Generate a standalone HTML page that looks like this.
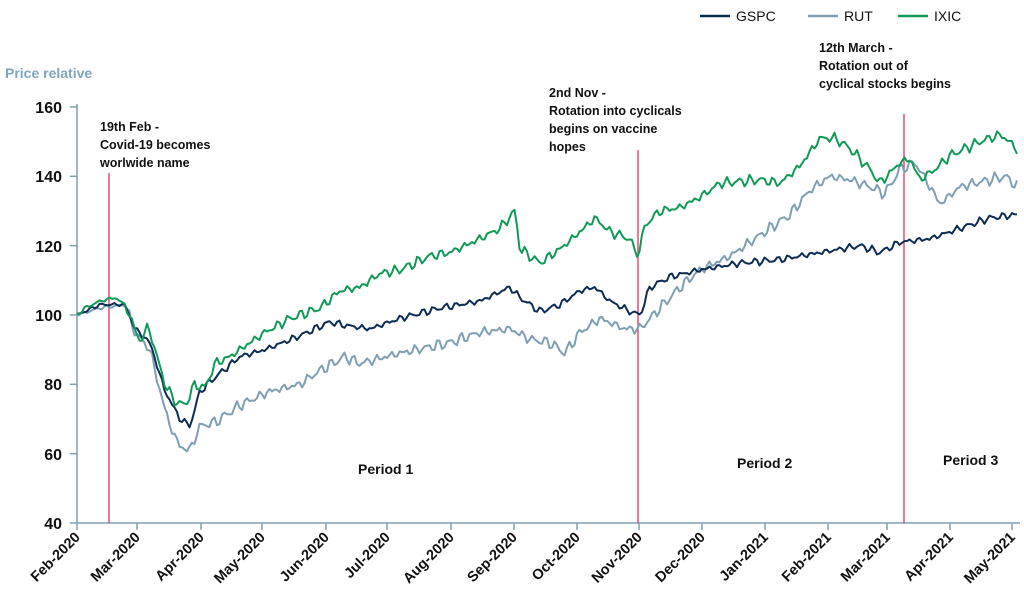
<!DOCTYPE html>
<html><head><meta charset="utf-8"><style>
body{margin:0;background:#fff;width:1024px;height:611px;overflow:hidden}
svg{display:block;font-family:"Liberation Sans",Arial,sans-serif}
.b{font-weight:bold}
</style></head><body>
<svg id="s" width="1024" height="611" viewBox="0 0 1024 611">
<g id="g"></g>
<text x="5" y="78" class="b" font-size="14" fill="#7fa6bd">Price relative</text>
<g class="b" font-size="16" fill="#111" text-anchor="end">
<text x="62" y="113">160</text><text x="62" y="182">140</text><text x="62" y="252">120</text>
<text x="62" y="321">100</text><text x="62" y="390">80</text><text x="62" y="460">60</text><text x="62" y="529">40</text>
</g>
<g class="b" font-size="12.5" fill="#111">
<text x="100" y="131">19th Feb -</text><text x="100" y="149">Covid-19 becomes</text><text x="100" y="167">worlwide name</text>
<text x="549" y="97">2nd Nov -</text><text x="549" y="115">Rotation into cyclicals</text><text x="549" y="133">begins on vaccine</text><text x="549" y="151">hopes</text>
<text x="819" y="52">12th March -</text><text x="819" y="70">Rotation out of</text><text x="819" y="88">cyclical stocks begins</text>
</g>
<g class="b" font-size="14" fill="#111">
<text x="358" y="474">Period 1</text><text x="737" y="468">Period 2</text><text x="943" y="465">Period 3</text>
</g>
<g font-size="14" fill="#111">
<line x1="700" y1="16" x2="730" y2="16" stroke="#0d2c54" stroke-width="2.5"/><text x="736" y="21">GSPC</text>
<line x1="808" y1="16" x2="838" y2="16" stroke="#7f9fb3" stroke-width="2.5"/><text x="844" y="21">RUT</text>
<line x1="898" y1="16" x2="928" y2="16" stroke="#109a58" stroke-width="2.5"/><text x="934" y="21">IXIC</text>
</g>
</svg>
<script>
var NS="http://www.w3.org/2000/svg",g=document.getElementById('g');
function el(t,a){var e=document.createElementNS(NS,t);for(var k in a)e.setAttribute(k,a[k]);g.appendChild(e);return e;}
function Y(v){return 523-(v-40)*3.467;}
var ax="#7f9fb3";
el('line',{x1:77,y1:104,x2:77,y2:523,stroke:ax,'stroke-width':1.5});
el('line',{x1:70,y1:523,x2:1020,y2:523,stroke:ax,'stroke-width':1.5});
[160,140,120,100,80,60].forEach(function(v){el('line',{x1:70,y1:Y(v),x2:77,y2:Y(v),stroke:ax,'stroke-width':1.5});});
var mx=[77,137,201,262,326,387,451,514,577,639,702,765,828,887,950,1012];
var ml=["Feb-2020","Mar-2020","Apr-2020","May-2020","Jun-2020","Jul-2020","Aug-2020","Sep-2020","Oct-2020","Nov-2020","Dec-2020","Jan-2021","Feb-2021","Mar-2021","Apr-2021","May-2021"];
mx.forEach(function(x,i){el('line',{x1:x,y1:523,x2:x,y2:530,stroke:ax,'stroke-width':1.5});
var t=el('text',{x:x+4,y:538,'text-anchor':'end','font-size':14.5,'font-weight':'bold',fill:'#111',transform:'rotate(-45 '+(x+4)+' 538)'});t.textContent=ml[i];});
[[109,173],[638,150],[904,114]].forEach(function(r){el('line',{x1:r[0],y1:r[1],x2:r[0],y2:523,stroke:'#e8315b','stroke-width':1.3});});
var D={
R:[[77,100],[100,102],[125,103],[135,95],[150,90],[160,78],[170,68],[180,62],[190,61],[200,68],[215,69],[240,74],[270,78],[300,80],[320,84],[345,88],[360,86],[400,89],[450,92],[480,95],[510,96],[530,93],[550,92],[565,89],[580,95],[600,99],[625,96],[640,96],[660,102],[680,108],[700,113],[730,117],[760,123],[790,129],[810,136],[830,140],[850,139],[870,137],[885,135],[900,142],[915,144],[930,137],[940,132],[960,137],[990,139],[1005,140],[1018,137]],
I:[[77,100],[85,102],[100,104],[115,105],[125,103],[135,96],[140,92],[148,97],[155,90],[165,80],[175,75],[185,74],[195,80],[205,79],[215,86],[230,88],[250,92],[265,95],[290,99],[320,102],[340,107],[360,108],[380,112],[400,113],[430,117],[450,118],[480,122],[500,125],[515,130],[520,119],[540,115],[560,119],[580,124],[595,128],[610,124],[630,122],[635,118],[640,119],[645,126],[660,130],[680,131],[700,134],[720,138],[760,139],[780,138],[800,143],[820,151],[835,151],[850,148],[870,142],[880,138],[890,141],[900,144],[910,145],[920,139],[935,142],[950,146],[980,150],[1000,152],[1010,150],[1018,147]],
G:[[77,100],[100,103],[125,103],[135,96],[150,92],[165,78],[180,70],[190,68],[200,78],[215,82],[240,88],[265,90],[300,94],[330,98],[345,97],[370,96],[400,99],[440,102],[480,104],[510,108],[520,105],[540,101],[560,103],[580,107],[595,108],[610,104],[630,101],[640,100],[650,108],[670,111],[700,113],[740,115],[780,116],[820,118],[860,120],[880,118],[900,121],[930,122],[960,125],[990,128],[1018,129]]};
function interp(p,x){for(var i=1;i<p.length;i++){if(x<=p[i][0]){var a=p[i-1],b=p[i];return a[1]+(b[1]-a[1])*(x-a[0])/(b[0]-a[0]);}}return p[p.length-1][1];}
function path(p,seed,amp,col){var d="";for(var x=77;x<=1018;x+=2.5){var n=x<125?0.3:amp;var v=interp(p,x)+n*(Math.sin(x*1.7+seed)*0.6+Math.sin(x*0.53+seed*2)*0.8+Math.sin(x*3.1+seed*3)*0.4);d+=(d?"L":"M")+x.toFixed(1)+","+Y(v).toFixed(1);}
el('path',{d:d,fill:'none',stroke:col,'stroke-width':2,'stroke-linejoin':'round'});}
path(D.R,1,1.1,"#7f9fb3");path(D.G,2,0.7,"#0d2c54");path(D.I,3,1.0,"#109a58");
</script>
</body></html>
